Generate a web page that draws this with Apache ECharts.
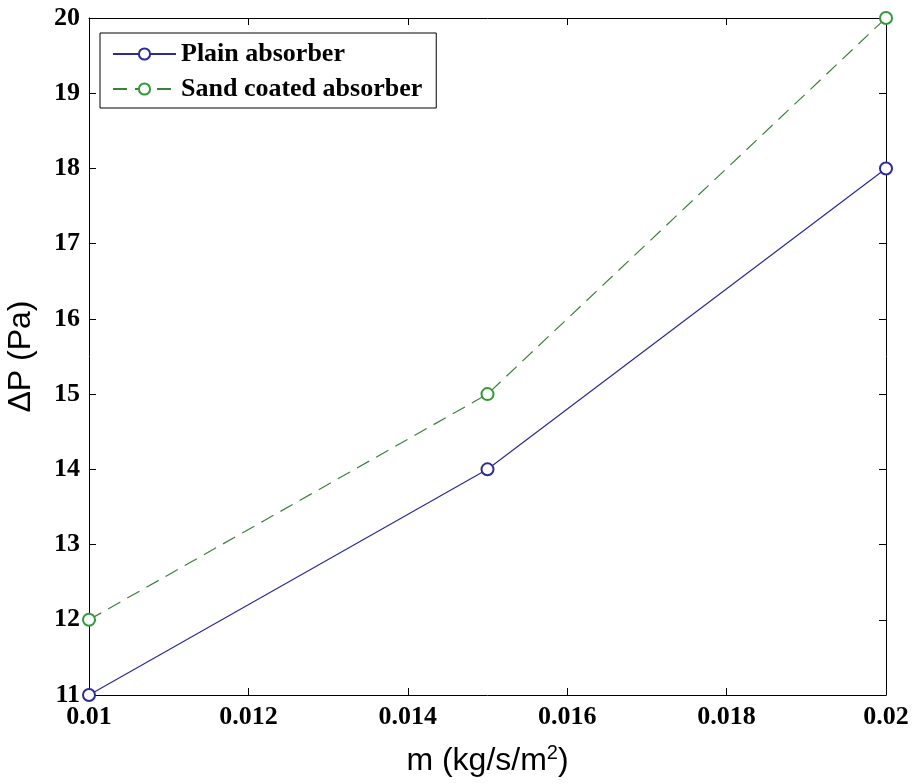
<!DOCTYPE html>
<html>
<head>
<meta charset="utf-8">
<script src="https://cdn.jsdelivr.net/npm/echarts@6/dist/echarts.min.js"></script>
<style>
  html, body { margin: 0; padding: 0; background: #fff; }
  #chart { width: 914px; height: 784px; }
</style>
</head>
<body>
<div id="chart"></div>
<script>
  // values
  var flowRates = [0.01, 0.015, 0.02];
  var plainDP = [11, 14, 18];
  var sandDP = [12, 15, 20];
  var seriesNames = ['Plain absorber', 'Sand coated absorber'];

  var tickFont = {
    fontFamily: 'Liberation Serif',
    fontWeight: 'bold',
    fontSize: 26,
    color: '#000'
  };

  var chart = echarts.init(document.getElementById('chart'));

  function frameAxis(extra) {
    return Object.assign({
      type: 'value',
      axisLine: { show: true, onZero: false, lineStyle: { color: '#000', width: 1 } },
      axisTick: { show: true, inside: true, length: 7, lineStyle: { color: '#000' } },
      splitLine: { show: false }
    }, extra);
  }

  chart.setOption({
    animation: false,
    backgroundColor: '#fff',
    grid: { left: 89, right: 28, top: 18, bottom: 89, containLabel: false, outerBoundsMode: 'none' },
    legend: {
      orient: 'vertical',
      left: 100,
      top: 33,
      padding: [8, 14, 6, 12],
      itemWidth: 63,
      itemHeight: 14,
      itemGap: 9,
      borderColor: '#000',
      borderWidth: 1,
      backgroundColor: '#fff',
      textStyle: {
        fontFamily: 'Liberation Serif',
        fontWeight: 'bold',
        fontSize: 26,
        color: '#000'
      },
      data: seriesNames
    },
    xAxis: [
      frameAxis({
        min: 0.01, max: 0.02, interval: 0.002,
        position: 'bottom',
        name: 'm (kg/s/m{sup|2})',
        nameLocation: 'middle',
        nameGap: 48,
        nameTextStyle: {
          fontFamily: 'Liberation Sans', fontSize: 32, color: '#000',
          rich: { sup: { fontFamily: 'Liberation Sans', fontSize: 20, verticalAlign: 'top', padding: [0, 0, 16, 0] } }
        },
        axisLabel: Object.assign({ margin: 9 }, tickFont)
      }),
      frameAxis({
        min: 0.01, max: 0.02, interval: 0.002,
        position: 'top',
        axisLabel: { show: false }
      })
    ],
    yAxis: [
      frameAxis({
        min: 11, max: 20, interval: 1,
        position: 'left',
        name: 'ΔP (Pa)',
        nameLocation: 'middle',
        nameGap: 52,
        nameTextStyle: { fontFamily: 'Liberation Sans', fontSize: 32, color: '#000' },
        axisLabel: Object.assign({ margin: 9 }, tickFont)
      }),
      frameAxis({
        min: 11, max: 20, interval: 1,
        position: 'right',
        axisLabel: { show: false }
      })
    ],
    series: [
      {
        name: seriesNames[0],
        type: 'line',
        data: flowRates.map(function (x, i) { return [x, plainDP[i]]; }),
        symbol: 'emptyCircle',
        symbolSize: 12,
        lineStyle: { color: '#2b2b99', width: 1.2, type: 'solid' },
        itemStyle: { color: '#2b2b99', borderColor: '#2b2b99', borderWidth: 1.1 }
      },
      {
        name: seriesNames[1],
        type: 'line',
        data: flowRates.map(function (x, i) { return [x, sandDP[i]]; }),
        symbol: 'emptyCircle',
        symbolSize: 12,
        lineStyle: { color: '#3d7f3d', width: 1.2, type: [14, 8] },
        itemStyle: { color: '#33993a', borderColor: '#33993a', borderWidth: 1.1 }
      }
    ]
  });
</script>
</body>
</html>
